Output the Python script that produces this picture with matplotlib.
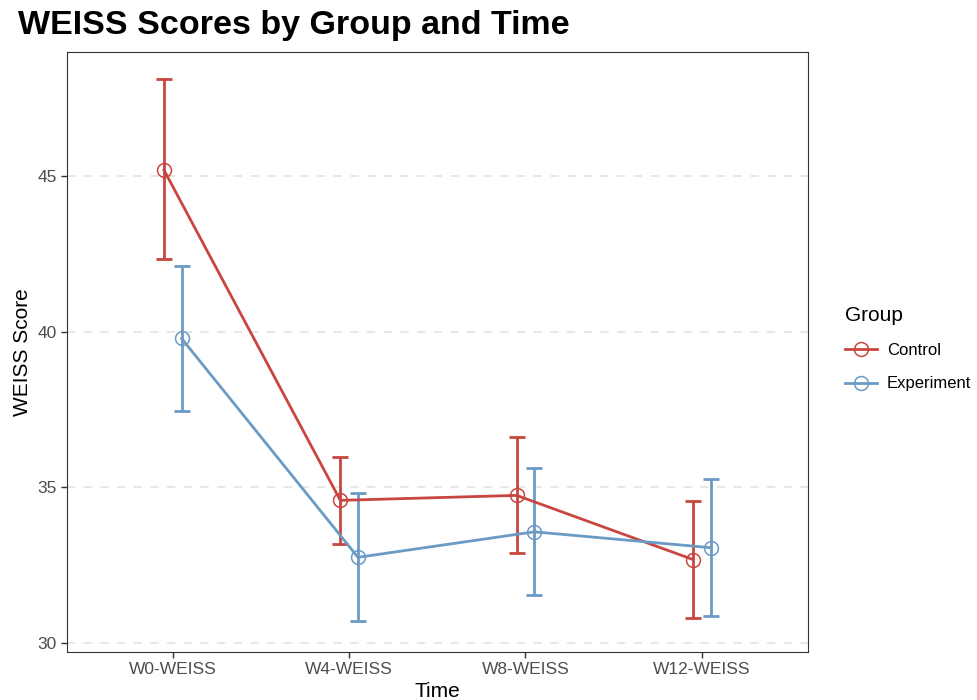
import matplotlib
matplotlib.use('Agg')
import matplotlib.pyplot as plt
from matplotlib.lines import Line2D
import numpy as np

plt.rcParams['font.family'] = ['Liberation Sans', 'DejaVu Sans']

# data
times = ['W0-WEISS', 'W4-WEISS', 'W8-WEISS', 'W12-WEISS']
groups = ['Control', 'Experiment']
control_mean = [45.19, 34.58, 34.74, 32.68]
control_low = [42.33, 33.17, 32.89, 30.79]
control_high = [48.10, 35.96, 36.62, 34.55]
experiment_mean = [39.78, 32.75, 33.57, 33.06]
experiment_low = [37.46, 30.71, 31.55, 30.86]
experiment_high = [42.12, 34.81, 35.61, 35.28]

colors = {'Control': '#C8463F', 'Experiment': '#6B9AC4'}
series = {
    'Control': (control_mean, control_low, control_high),
    'Experiment': (experiment_mean, experiment_low, experiment_high),
}
offsets = {'Control': -0.05, 'Experiment': 0.05}

fig = plt.figure(figsize=(9.77, 7), dpi=100)
ax = fig.add_axes([0.0686, 0.0686, 0.758, 0.857])

x = np.arange(1, len(times) + 1)
for g in groups:
    mean, low, high = series[g]
    mean = np.array(mean)
    yerr = [mean - np.array(low), np.array(high) - mean]
    xs = x + offsets[g]
    ax.errorbar(xs, mean, yerr=yerr, fmt='none', ecolor=colors[g],
                elinewidth=2, capsize=6, capthick=2, zorder=2)
    ax.plot(xs, mean, color=colors[g], lw=2, zorder=3)
    ax.plot(xs, mean, 'o', mfc='none', mec=colors[g], ms=10, mew=1.1,
            zorder=4)

ax.set_xlim(0.4, 4.6)
ax.set_ylim(29.71, 48.98)
ax.set_xticks(x)
ax.set_xticklabels(times)
ax.set_yticks([30, 35, 40, 45])
ax.tick_params(axis='both', labelsize=12.5, labelcolor='#4D4D4D',
               color='#333333', length=4, width=1)
ax.yaxis.grid(True, color='#E3E3E3', linestyle=(0, (5, 5)), lw=1.2)
ax.set_axisbelow(True)
for s in ax.spines.values():
    s.set_color('#333333')
    s.set_linewidth(0.8)

ax.set_xlabel('Time', fontsize=15, labelpad=3)
ax.set_ylabel('WEISS Score', fontsize=15, labelpad=4)
fig.text(0.018, 0.963, 'WEISS Scores by Group and Time', fontsize=24.5,
         fontweight='bold', va='center', ha='left')

handles = [Line2D([0], [0], color=colors[g], lw=2, marker='o', mfc='none',
                  mec=colors[g], ms=10, mew=1.1) for g in groups]
leg = fig.legend(handles, groups, loc='center left',
                 bbox_to_anchor=(0.850, 0.502), frameon=False, fontsize=12,
                 title='Group', title_fontsize=15, handlelength=1.9,
                 labelspacing=1.1, handletextpad=0.6)
leg._legend_box.align = 'left'

fig.savefig('out.png', dpi=100)
